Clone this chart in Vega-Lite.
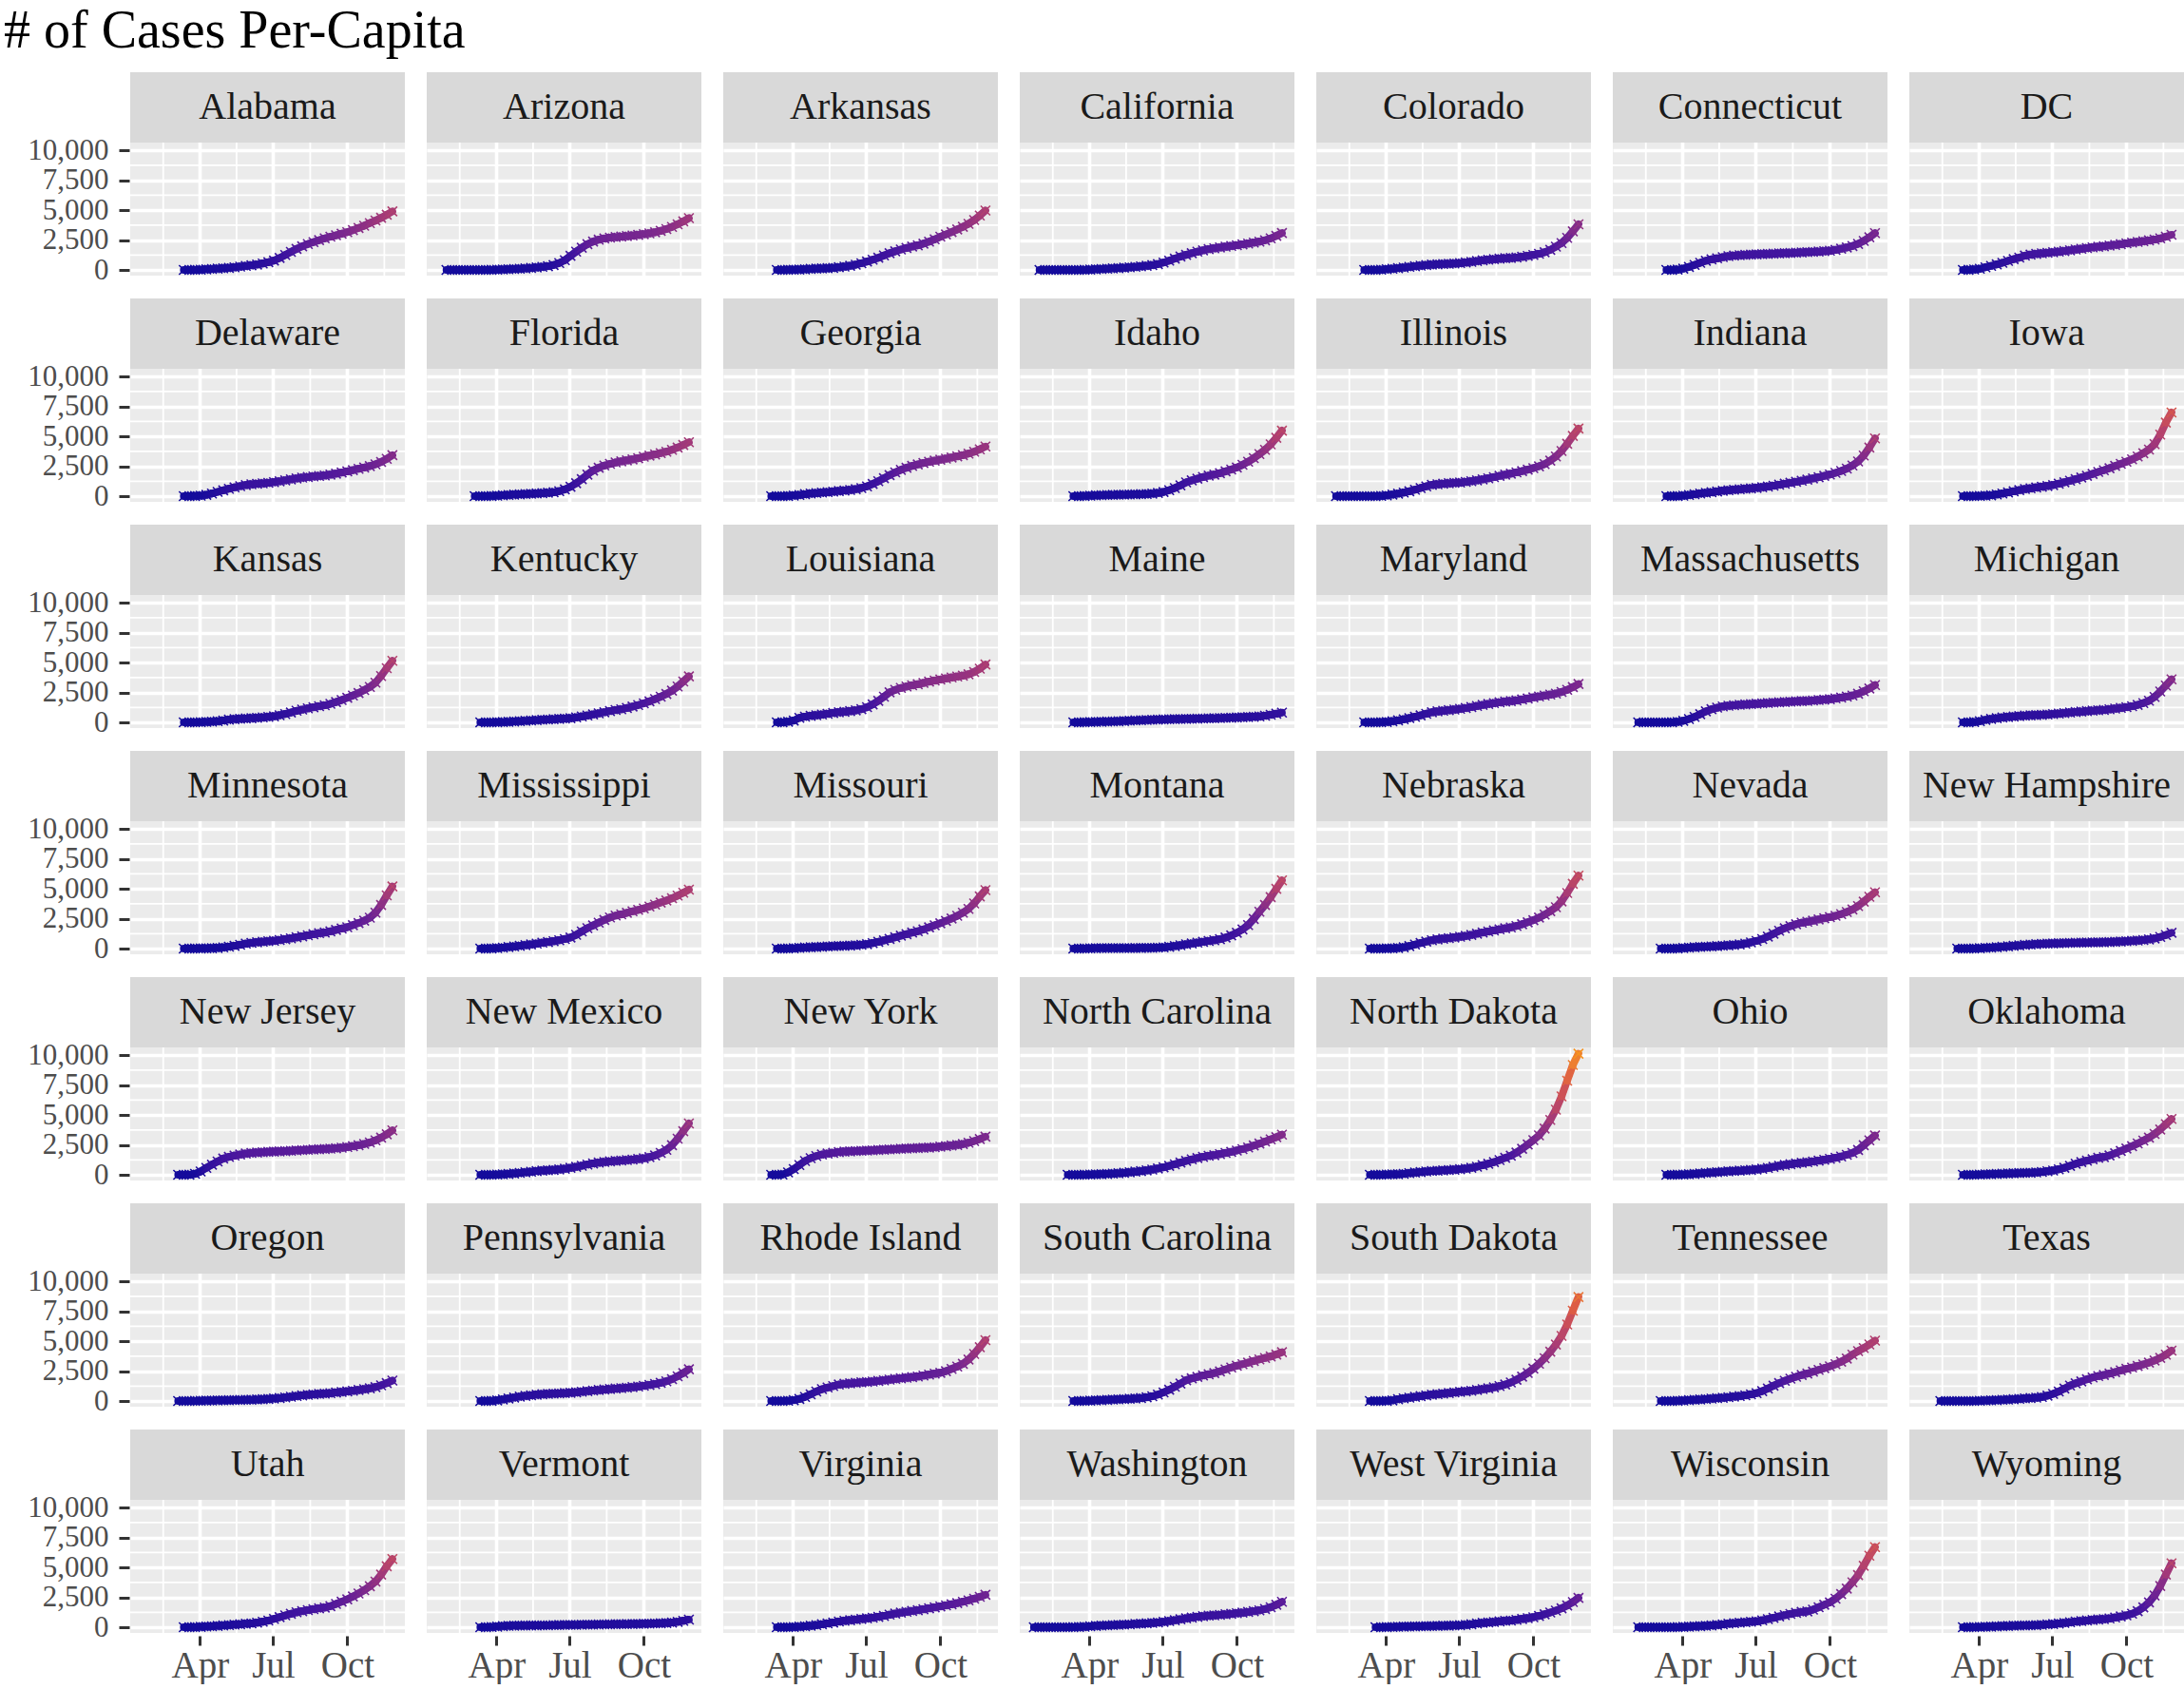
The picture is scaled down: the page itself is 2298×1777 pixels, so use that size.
{
  "$schema": "https://vega.github.io/schema/vega-lite/v6.json",
  "background": "white",
  "padding": {"left": 2, "top": 5, "right": 0, "bottom": 0},
  "title": {
    "text": "# of Cases Per-Capita",
    "anchor": "start",
    "frame": "bounds",
    "font": "Liberation Serif",
    "fontSize": 56,
    "fontWeight": "normal",
    "color": "#000000",
    "offset": 12,
    "dx": 2
  },
  "data": {
    "values": "s,d,v\nAlabama,2020-03-12,0\nAlabama,2020-03-19,1\nAlabama,2020-03-26,10\nAlabama,2020-04-02,25\nAlabama,2020-04-09,55\nAlabama,2020-04-16,85\nAlabama,2020-04-23,110\nAlabama,2020-04-30,140\nAlabama,2020-05-07,175\nAlabama,2020-05-14,220\nAlabama,2020-05-21,280\nAlabama,2020-05-28,340\nAlabama,2020-06-04,390\nAlabama,2020-06-11,450\nAlabama,2020-06-18,540\nAlabama,2020-06-25,650\nAlabama,2020-07-02,790\nAlabama,2020-07-09,1000\nAlabama,2020-07-16,1250\nAlabama,2020-07-23,1510\nAlabama,2020-07-30,1760\nAlabama,2020-08-06,1980\nAlabama,2020-08-13,2170\nAlabama,2020-08-20,2330\nAlabama,2020-08-27,2490\nAlabama,2020-09-03,2640\nAlabama,2020-09-10,2780\nAlabama,2020-09-17,2900\nAlabama,2020-09-24,3030\nAlabama,2020-10-01,3160\nAlabama,2020-10-08,3330\nAlabama,2020-10-15,3510\nAlabama,2020-10-22,3700\nAlabama,2020-10-29,3920\nAlabama,2020-11-05,4130\nAlabama,2020-11-12,4360\nAlabama,2020-11-19,4620\nAlabama,2020-11-26,4900\nArizona,2020-01-30,0\nArizona,2020-02-06,0\nArizona,2020-02-13,0\nArizona,2020-02-20,0\nArizona,2020-02-27,0\nArizona,2020-03-05,0\nArizona,2020-03-12,0\nArizona,2020-03-19,1\nArizona,2020-03-26,6\nArizona,2020-04-02,22\nArizona,2020-04-09,45\nArizona,2020-04-16,60\nArizona,2020-04-23,80\nArizona,2020-04-30,100\nArizona,2020-05-07,130\nArizona,2020-05-14,170\nArizona,2020-05-21,210\nArizona,2020-05-28,260\nArizona,2020-06-04,310\nArizona,2020-06-11,410\nArizona,2020-06-18,580\nArizona,2020-06-25,820\nArizona,2020-07-02,1180\nArizona,2020-07-09,1530\nArizona,2020-07-16,1860\nArizona,2020-07-23,2160\nArizona,2020-07-30,2380\nArizona,2020-08-06,2530\nArizona,2020-08-13,2630\nArizona,2020-08-20,2700\nArizona,2020-08-27,2750\nArizona,2020-09-03,2790\nArizona,2020-09-10,2830\nArizona,2020-09-17,2880\nArizona,2020-09-24,2930\nArizona,2020-10-01,2990\nArizona,2020-10-08,3060\nArizona,2020-10-15,3150\nArizona,2020-10-22,3270\nArizona,2020-10-29,3420\nArizona,2020-11-05,3600\nArizona,2020-11-12,3820\nArizona,2020-11-19,4060\nArizona,2020-11-26,4330\nArkansas,2020-03-12,0\nArkansas,2020-03-19,2\nArkansas,2020-03-26,12\nArkansas,2020-04-02,22\nArkansas,2020-04-09,35\nArkansas,2020-04-16,55\nArkansas,2020-04-23,90\nArkansas,2020-04-30,110\nArkansas,2020-05-07,125\nArkansas,2020-05-14,145\nArkansas,2020-05-21,175\nArkansas,2020-05-28,225\nArkansas,2020-06-04,275\nArkansas,2020-06-11,350\nArkansas,2020-06-18,440\nArkansas,2020-06-25,560\nArkansas,2020-07-02,710\nArkansas,2020-07-09,860\nArkansas,2020-07-16,1020\nArkansas,2020-07-23,1210\nArkansas,2020-07-30,1400\nArkansas,2020-08-06,1560\nArkansas,2020-08-13,1710\nArkansas,2020-08-20,1840\nArkansas,2020-08-27,1960\nArkansas,2020-09-03,2060\nArkansas,2020-09-10,2200\nArkansas,2020-09-17,2370\nArkansas,2020-09-24,2560\nArkansas,2020-10-01,2780\nArkansas,2020-10-08,2970\nArkansas,2020-10-15,3170\nArkansas,2020-10-22,3390\nArkansas,2020-10-29,3610\nArkansas,2020-11-05,3860\nArkansas,2020-11-12,4170\nArkansas,2020-11-19,4550\nArkansas,2020-11-26,4970\nCalifornia,2020-01-30,0\nCalifornia,2020-02-06,0\nCalifornia,2020-02-13,0\nCalifornia,2020-02-20,0\nCalifornia,2020-02-27,0\nCalifornia,2020-03-05,0\nCalifornia,2020-03-12,1\nCalifornia,2020-03-19,3\nCalifornia,2020-03-26,9\nCalifornia,2020-04-02,27\nCalifornia,2020-04-09,52\nCalifornia,2020-04-16,76\nCalifornia,2020-04-23,105\nCalifornia,2020-04-30,130\nCalifornia,2020-05-07,155\nCalifornia,2020-05-14,185\nCalifornia,2020-05-21,215\nCalifornia,2020-05-28,260\nCalifornia,2020-06-04,300\nCalifornia,2020-06-11,350\nCalifornia,2020-06-18,410\nCalifornia,2020-06-25,490\nCalifornia,2020-07-02,620\nCalifornia,2020-07-09,780\nCalifornia,2020-07-16,950\nCalifornia,2020-07-23,1120\nCalifornia,2020-07-30,1260\nCalifornia,2020-08-06,1400\nCalifornia,2020-08-13,1530\nCalifornia,2020-08-20,1640\nCalifornia,2020-08-27,1740\nCalifornia,2020-09-03,1810\nCalifornia,2020-09-10,1880\nCalifornia,2020-09-17,1950\nCalifornia,2020-09-24,2010\nCalifornia,2020-10-01,2070\nCalifornia,2020-10-08,2140\nCalifornia,2020-10-15,2210\nCalifornia,2020-10-22,2290\nCalifornia,2020-10-29,2370\nCalifornia,2020-11-05,2480\nCalifornia,2020-11-12,2640\nCalifornia,2020-11-19,2850\nCalifornia,2020-11-26,3090\nColorado,2020-03-05,0\nColorado,2020-03-12,1\nColorado,2020-03-19,4\nColorado,2020-03-26,20\nColorado,2020-04-02,60\nColorado,2020-04-09,105\nColorado,2020-04-16,150\nColorado,2020-04-23,200\nColorado,2020-04-30,255\nColorado,2020-05-07,310\nColorado,2020-05-14,360\nColorado,2020-05-21,410\nColorado,2020-05-28,445\nColorado,2020-06-04,470\nColorado,2020-06-11,495\nColorado,2020-06-18,515\nColorado,2020-06-25,540\nColorado,2020-07-02,575\nColorado,2020-07-09,625\nColorado,2020-07-16,680\nColorado,2020-07-23,745\nColorado,2020-07-30,810\nColorado,2020-08-06,860\nColorado,2020-08-13,900\nColorado,2020-08-20,940\nColorado,2020-08-27,980\nColorado,2020-09-03,1000\nColorado,2020-09-10,1040\nColorado,2020-09-17,1100\nColorado,2020-09-24,1170\nColorado,2020-10-01,1250\nColorado,2020-10-08,1350\nColorado,2020-10-15,1480\nColorado,2020-10-22,1680\nColorado,2020-10-29,1950\nColorado,2020-11-05,2250\nColorado,2020-11-12,2680\nColorado,2020-11-19,3230\nColorado,2020-11-26,3820\nConnecticut,2020-03-12,0\nConnecticut,2020-03-19,3\nConnecticut,2020-03-26,30\nConnecticut,2020-04-02,110\nConnecticut,2020-04-09,250\nConnecticut,2020-04-16,420\nConnecticut,2020-04-23,600\nConnecticut,2020-04-30,770\nConnecticut,2020-05-07,890\nConnecticut,2020-05-14,970\nConnecticut,2020-05-21,1070\nConnecticut,2020-05-28,1150\nConnecticut,2020-06-04,1200\nConnecticut,2020-06-11,1230\nConnecticut,2020-06-18,1260\nConnecticut,2020-06-25,1285\nConnecticut,2020-07-02,1305\nConnecticut,2020-07-09,1325\nConnecticut,2020-07-16,1340\nConnecticut,2020-07-23,1360\nConnecticut,2020-07-30,1385\nConnecticut,2020-08-06,1405\nConnecticut,2020-08-13,1420\nConnecticut,2020-08-20,1440\nConnecticut,2020-08-27,1465\nConnecticut,2020-09-03,1490\nConnecticut,2020-09-10,1510\nConnecticut,2020-09-17,1540\nConnecticut,2020-09-24,1570\nConnecticut,2020-10-01,1610\nConnecticut,2020-10-08,1680\nConnecticut,2020-10-15,1780\nConnecticut,2020-10-22,1880\nConnecticut,2020-10-29,2000\nConnecticut,2020-11-05,2180\nConnecticut,2020-11-12,2430\nConnecticut,2020-11-19,2730\nConnecticut,2020-11-26,3080\nDC,2020-03-12,1\nDC,2020-03-19,10\nDC,2020-03-26,45\nDC,2020-04-02,100\nDC,2020-04-09,220\nDC,2020-04-16,340\nDC,2020-04-23,470\nDC,2020-04-30,600\nDC,2020-05-07,760\nDC,2020-05-14,900\nDC,2020-05-21,1030\nDC,2020-05-28,1200\nDC,2020-06-04,1280\nDC,2020-06-11,1340\nDC,2020-06-18,1390\nDC,2020-06-25,1430\nDC,2020-07-02,1480\nDC,2020-07-09,1530\nDC,2020-07-16,1580\nDC,2020-07-23,1640\nDC,2020-07-30,1710\nDC,2020-08-06,1770\nDC,2020-08-13,1830\nDC,2020-08-20,1890\nDC,2020-08-27,1940\nDC,2020-09-03,1980\nDC,2020-09-10,2040\nDC,2020-09-17,2100\nDC,2020-09-24,2160\nDC,2020-10-01,2230\nDC,2020-10-08,2290\nDC,2020-10-15,2350\nDC,2020-10-22,2410\nDC,2020-10-29,2470\nDC,2020-11-05,2540\nDC,2020-11-12,2640\nDC,2020-11-19,2780\nDC,2020-11-26,2940\nDelaware,2020-03-12,0\nDelaware,2020-03-19,3\nDelaware,2020-03-26,12\nDelaware,2020-04-02,40\nDelaware,2020-04-09,110\nDelaware,2020-04-16,220\nDelaware,2020-04-23,360\nDelaware,2020-04-30,490\nDelaware,2020-05-07,620\nDelaware,2020-05-14,740\nDelaware,2020-05-21,840\nDelaware,2020-05-28,930\nDelaware,2020-06-04,990\nDelaware,2020-06-11,1030\nDelaware,2020-06-18,1070\nDelaware,2020-06-25,1110\nDelaware,2020-07-02,1170\nDelaware,2020-07-09,1240\nDelaware,2020-07-16,1320\nDelaware,2020-07-23,1400\nDelaware,2020-07-30,1480\nDelaware,2020-08-06,1550\nDelaware,2020-08-13,1600\nDelaware,2020-08-20,1650\nDelaware,2020-08-27,1690\nDelaware,2020-09-03,1730\nDelaware,2020-09-10,1800\nDelaware,2020-09-17,1880\nDelaware,2020-09-24,1980\nDelaware,2020-10-01,2080\nDelaware,2020-10-08,2180\nDelaware,2020-10-15,2290\nDelaware,2020-10-22,2400\nDelaware,2020-10-29,2510\nDelaware,2020-11-05,2660\nDelaware,2020-11-12,2860\nDelaware,2020-11-19,3120\nDelaware,2020-11-26,3430\nFlorida,2020-03-05,0\nFlorida,2020-03-12,1\nFlorida,2020-03-19,2\nFlorida,2020-03-26,12\nFlorida,2020-04-02,40\nFlorida,2020-04-09,75\nFlorida,2020-04-16,105\nFlorida,2020-04-23,135\nFlorida,2020-04-30,155\nFlorida,2020-05-07,180\nFlorida,2020-05-14,200\nFlorida,2020-05-21,225\nFlorida,2020-05-28,250\nFlorida,2020-06-04,285\nFlorida,2020-06-11,330\nFlorida,2020-06-18,420\nFlorida,2020-06-25,570\nFlorida,2020-07-02,790\nFlorida,2020-07-09,1080\nFlorida,2020-07-16,1420\nFlorida,2020-07-23,1800\nFlorida,2020-07-30,2140\nFlorida,2020-08-06,2380\nFlorida,2020-08-13,2560\nFlorida,2020-08-20,2700\nFlorida,2020-08-27,2820\nFlorida,2020-09-03,2910\nFlorida,2020-09-10,2990\nFlorida,2020-09-17,3070\nFlorida,2020-09-24,3170\nFlorida,2020-10-01,3300\nFlorida,2020-10-08,3390\nFlorida,2020-10-15,3490\nFlorida,2020-10-22,3600\nFlorida,2020-10-29,3720\nFlorida,2020-11-05,3880\nFlorida,2020-11-12,4070\nFlorida,2020-11-19,4280\nFlorida,2020-11-26,4510\nGeorgia,2020-03-05,0\nGeorgia,2020-03-12,0\nGeorgia,2020-03-19,2\nGeorgia,2020-03-26,15\nGeorgia,2020-04-02,55\nGeorgia,2020-04-09,105\nGeorgia,2020-04-16,165\nGeorgia,2020-04-23,215\nGeorgia,2020-04-30,255\nGeorgia,2020-05-07,295\nGeorgia,2020-05-14,335\nGeorgia,2020-05-21,380\nGeorgia,2020-05-28,430\nGeorgia,2020-06-04,470\nGeorgia,2020-06-11,520\nGeorgia,2020-06-18,590\nGeorgia,2020-06-25,680\nGeorgia,2020-07-02,820\nGeorgia,2020-07-09,1020\nGeorgia,2020-07-16,1250\nGeorgia,2020-07-23,1500\nGeorgia,2020-07-30,1760\nGeorgia,2020-08-06,1990\nGeorgia,2020-08-13,2200\nGeorgia,2020-08-20,2380\nGeorgia,2020-08-27,2530\nGeorgia,2020-09-03,2650\nGeorgia,2020-09-10,2770\nGeorgia,2020-09-17,2880\nGeorgia,2020-09-24,2970\nGeorgia,2020-10-01,3050\nGeorgia,2020-10-08,3140\nGeorgia,2020-10-15,3230\nGeorgia,2020-10-22,3330\nGeorgia,2020-10-29,3430\nGeorgia,2020-11-05,3560\nGeorgia,2020-11-12,3720\nGeorgia,2020-11-19,3920\nGeorgia,2020-11-26,4150\nIdaho,2020-03-12,0\nIdaho,2020-03-19,3\nIdaho,2020-03-26,15\nIdaho,2020-04-02,45\nIdaho,2020-04-09,70\nIdaho,2020-04-16,85\nIdaho,2020-04-23,100\nIdaho,2020-04-30,110\nIdaho,2020-05-07,120\nIdaho,2020-05-14,130\nIdaho,2020-05-21,140\nIdaho,2020-05-28,155\nIdaho,2020-06-04,165\nIdaho,2020-06-11,180\nIdaho,2020-06-18,210\nIdaho,2020-06-25,270\nIdaho,2020-07-02,350\nIdaho,2020-07-09,500\nIdaho,2020-07-16,680\nIdaho,2020-07-23,900\nIdaho,2020-07-30,1150\nIdaho,2020-08-06,1320\nIdaho,2020-08-13,1460\nIdaho,2020-08-20,1600\nIdaho,2020-08-27,1720\nIdaho,2020-09-03,1800\nIdaho,2020-09-10,1920\nIdaho,2020-09-17,2080\nIdaho,2020-09-24,2230\nIdaho,2020-10-01,2400\nIdaho,2020-10-08,2620\nIdaho,2020-10-15,2880\nIdaho,2020-10-22,3180\nIdaho,2020-10-29,3520\nIdaho,2020-11-05,3880\nIdaho,2020-11-12,4330\nIdaho,2020-11-19,4880\nIdaho,2020-11-26,5480\nIllinois,2020-01-30,0\nIllinois,2020-02-06,0\nIllinois,2020-02-13,0\nIllinois,2020-02-20,0\nIllinois,2020-02-27,0\nIllinois,2020-03-05,0\nIllinois,2020-03-12,0\nIllinois,2020-03-19,3\nIllinois,2020-03-26,20\nIllinois,2020-04-02,65\nIllinois,2020-04-09,130\nIllinois,2020-04-16,210\nIllinois,2020-04-23,300\nIllinois,2020-04-30,410\nIllinois,2020-05-07,540\nIllinois,2020-05-14,680\nIllinois,2020-05-21,820\nIllinois,2020-05-28,940\nIllinois,2020-06-04,990\nIllinois,2020-06-11,1040\nIllinois,2020-06-18,1080\nIllinois,2020-06-25,1110\nIllinois,2020-07-02,1140\nIllinois,2020-07-09,1190\nIllinois,2020-07-16,1250\nIllinois,2020-07-23,1320\nIllinois,2020-07-30,1400\nIllinois,2020-08-06,1490\nIllinois,2020-08-13,1590\nIllinois,2020-08-20,1700\nIllinois,2020-08-27,1800\nIllinois,2020-09-03,1880\nIllinois,2020-09-10,1990\nIllinois,2020-09-17,2100\nIllinois,2020-09-24,2220\nIllinois,2020-10-01,2350\nIllinois,2020-10-08,2500\nIllinois,2020-10-15,2680\nIllinois,2020-10-22,2970\nIllinois,2020-10-29,3320\nIllinois,2020-11-05,3780\nIllinois,2020-11-12,4380\nIllinois,2020-11-19,5040\nIllinois,2020-11-26,5650\nIndiana,2020-03-12,0\nIndiana,2020-03-19,1\nIndiana,2020-03-26,10\nIndiana,2020-04-02,45\nIndiana,2020-04-09,100\nIndiana,2020-04-16,160\nIndiana,2020-04-23,220\nIndiana,2020-04-30,275\nIndiana,2020-05-07,330\nIndiana,2020-05-14,390\nIndiana,2020-05-21,450\nIndiana,2020-05-28,500\nIndiana,2020-06-04,540\nIndiana,2020-06-11,580\nIndiana,2020-06-18,615\nIndiana,2020-06-25,650\nIndiana,2020-07-02,690\nIndiana,2020-07-09,750\nIndiana,2020-07-16,810\nIndiana,2020-07-23,880\nIndiana,2020-07-30,960\nIndiana,2020-08-06,1040\nIndiana,2020-08-13,1120\nIndiana,2020-08-20,1200\nIndiana,2020-08-27,1290\nIndiana,2020-09-03,1380\nIndiana,2020-09-10,1480\nIndiana,2020-09-17,1580\nIndiana,2020-09-24,1700\nIndiana,2020-10-01,1810\nIndiana,2020-10-08,1950\nIndiana,2020-10-15,2110\nIndiana,2020-10-22,2310\nIndiana,2020-10-29,2560\nIndiana,2020-11-05,2900\nIndiana,2020-11-12,3400\nIndiana,2020-11-19,4060\nIndiana,2020-11-26,4830\nIowa,2020-03-12,1\nIowa,2020-03-19,2\nIowa,2020-03-26,5\nIowa,2020-04-02,20\nIowa,2020-04-09,45\nIowa,2020-04-16,75\nIowa,2020-04-23,140\nIowa,2020-04-30,215\nIowa,2020-05-07,310\nIowa,2020-05-14,410\nIowa,2020-05-21,510\nIowa,2020-05-28,600\nIowa,2020-06-04,660\nIowa,2020-06-11,730\nIowa,2020-06-18,790\nIowa,2020-06-25,850\nIowa,2020-07-02,930\nIowa,2020-07-09,1040\nIowa,2020-07-16,1160\nIowa,2020-07-23,1290\nIowa,2020-07-30,1420\nIowa,2020-08-06,1560\nIowa,2020-08-13,1700\nIowa,2020-08-20,1860\nIowa,2020-08-27,2030\nIowa,2020-09-03,2170\nIowa,2020-09-10,2340\nIowa,2020-09-17,2530\nIowa,2020-09-24,2700\nIowa,2020-10-01,2880\nIowa,2020-10-08,3080\nIowa,2020-10-15,3320\nIowa,2020-10-22,3590\nIowa,2020-10-29,3900\nIowa,2020-11-05,4350\nIowa,2020-11-12,5150\nIowa,2020-11-19,6150\nIowa,2020-11-26,7000\nKansas,2020-03-12,0\nKansas,2020-03-19,1\nKansas,2020-03-26,5\nKansas,2020-04-02,17\nKansas,2020-04-09,40\nKansas,2020-04-16,65\nKansas,2020-04-23,100\nKansas,2020-04-30,155\nKansas,2020-05-07,230\nKansas,2020-05-14,270\nKansas,2020-05-21,300\nKansas,2020-05-28,325\nKansas,2020-06-04,350\nKansas,2020-06-11,380\nKansas,2020-06-18,420\nKansas,2020-06-25,460\nKansas,2020-07-02,510\nKansas,2020-07-09,600\nKansas,2020-07-16,700\nKansas,2020-07-23,830\nKansas,2020-07-30,970\nKansas,2020-08-06,1070\nKansas,2020-08-13,1170\nKansas,2020-08-20,1260\nKansas,2020-08-27,1350\nKansas,2020-09-03,1430\nKansas,2020-09-10,1550\nKansas,2020-09-17,1700\nKansas,2020-09-24,1870\nKansas,2020-10-01,2060\nKansas,2020-10-08,2250\nKansas,2020-10-15,2460\nKansas,2020-10-22,2700\nKansas,2020-10-29,2960\nKansas,2020-11-05,3320\nKansas,2020-11-12,3880\nKansas,2020-11-19,4530\nKansas,2020-11-26,5150\nKentucky,2020-03-12,0\nKentucky,2020-03-19,1\nKentucky,2020-03-26,5\nKentucky,2020-04-02,15\nKentucky,2020-04-09,30\nKentucky,2020-04-16,50\nKentucky,2020-04-23,75\nKentucky,2020-04-30,105\nKentucky,2020-05-07,130\nKentucky,2020-05-14,160\nKentucky,2020-05-21,190\nKentucky,2020-05-28,215\nKentucky,2020-06-04,240\nKentucky,2020-06-11,265\nKentucky,2020-06-18,290\nKentucky,2020-06-25,315\nKentucky,2020-07-02,350\nKentucky,2020-07-09,420\nKentucky,2020-07-16,500\nKentucky,2020-07-23,580\nKentucky,2020-07-30,670\nKentucky,2020-08-06,760\nKentucky,2020-08-13,850\nKentucky,2020-08-20,940\nKentucky,2020-08-27,1030\nKentucky,2020-09-03,1090\nKentucky,2020-09-10,1200\nKentucky,2020-09-17,1320\nKentucky,2020-09-24,1450\nKentucky,2020-10-01,1590\nKentucky,2020-10-08,1760\nKentucky,2020-10-15,1950\nKentucky,2020-10-22,2150\nKentucky,2020-10-29,2380\nKentucky,2020-11-05,2650\nKentucky,2020-11-12,3000\nKentucky,2020-11-19,3420\nKentucky,2020-11-26,3850\nLouisiana,2020-03-12,1\nLouisiana,2020-03-19,10\nLouisiana,2020-03-26,50\nLouisiana,2020-04-02,150\nLouisiana,2020-04-09,380\nLouisiana,2020-04-16,480\nLouisiana,2020-04-23,550\nLouisiana,2020-04-30,600\nLouisiana,2020-05-07,660\nLouisiana,2020-05-14,720\nLouisiana,2020-05-21,790\nLouisiana,2020-05-28,850\nLouisiana,2020-06-04,890\nLouisiana,2020-06-11,940\nLouisiana,2020-06-18,1000\nLouisiana,2020-06-25,1100\nLouisiana,2020-07-02,1270\nLouisiana,2020-07-09,1500\nLouisiana,2020-07-16,1800\nLouisiana,2020-07-23,2150\nLouisiana,2020-07-30,2510\nLouisiana,2020-08-06,2720\nLouisiana,2020-08-13,2880\nLouisiana,2020-08-20,3000\nLouisiana,2020-08-27,3100\nLouisiana,2020-09-03,3190\nLouisiana,2020-09-10,3300\nLouisiana,2020-09-17,3410\nLouisiana,2020-09-24,3500\nLouisiana,2020-10-01,3590\nLouisiana,2020-10-08,3680\nLouisiana,2020-10-15,3760\nLouisiana,2020-10-22,3840\nLouisiana,2020-10-29,3910\nLouisiana,2020-11-05,4020\nLouisiana,2020-11-12,4210\nLouisiana,2020-11-19,4490\nLouisiana,2020-11-26,4840\nMaine,2020-03-12,0\nMaine,2020-03-19,3\nMaine,2020-03-26,12\nMaine,2020-04-02,28\nMaine,2020-04-09,40\nMaine,2020-04-16,55\nMaine,2020-04-23,70\nMaine,2020-04-30,82\nMaine,2020-05-07,95\nMaine,2020-05-14,115\nMaine,2020-05-21,140\nMaine,2020-05-28,165\nMaine,2020-06-04,180\nMaine,2020-06-11,200\nMaine,2020-06-18,215\nMaine,2020-06-25,232\nMaine,2020-07-02,248\nMaine,2020-07-09,262\nMaine,2020-07-16,273\nMaine,2020-07-23,283\nMaine,2020-07-30,290\nMaine,2020-08-06,300\nMaine,2020-08-13,310\nMaine,2020-08-20,320\nMaine,2020-08-27,335\nMaine,2020-09-03,345\nMaine,2020-09-10,360\nMaine,2020-09-17,375\nMaine,2020-09-24,392\nMaine,2020-10-01,410\nMaine,2020-10-08,430\nMaine,2020-10-15,450\nMaine,2020-10-22,472\nMaine,2020-10-29,500\nMaine,2020-11-05,560\nMaine,2020-11-12,640\nMaine,2020-11-19,730\nMaine,2020-11-26,820\nMaryland,2020-03-05,0\nMaryland,2020-03-12,0\nMaryland,2020-03-19,2\nMaryland,2020-03-26,12\nMaryland,2020-04-02,35\nMaryland,2020-04-09,95\nMaryland,2020-04-16,170\nMaryland,2020-04-23,260\nMaryland,2020-04-30,360\nMaryland,2020-05-07,470\nMaryland,2020-05-14,590\nMaryland,2020-05-21,720\nMaryland,2020-05-28,850\nMaryland,2020-06-04,920\nMaryland,2020-06-11,970\nMaryland,2020-06-18,1020\nMaryland,2020-06-25,1070\nMaryland,2020-07-02,1130\nMaryland,2020-07-09,1200\nMaryland,2020-07-16,1280\nMaryland,2020-07-23,1370\nMaryland,2020-07-30,1460\nMaryland,2020-08-06,1540\nMaryland,2020-08-13,1610\nMaryland,2020-08-20,1680\nMaryland,2020-08-27,1740\nMaryland,2020-09-03,1780\nMaryland,2020-09-10,1840\nMaryland,2020-09-17,1920\nMaryland,2020-09-24,2000\nMaryland,2020-10-01,2100\nMaryland,2020-10-08,2170\nMaryland,2020-10-15,2250\nMaryland,2020-10-22,2330\nMaryland,2020-10-29,2410\nMaryland,2020-11-05,2540\nMaryland,2020-11-12,2720\nMaryland,2020-11-19,2950\nMaryland,2020-11-26,3210\nMassachusetts,2020-02-06,0\nMassachusetts,2020-02-13,0\nMassachusetts,2020-02-20,0\nMassachusetts,2020-02-27,0\nMassachusetts,2020-03-05,0\nMassachusetts,2020-03-12,2\nMassachusetts,2020-03-19,6\nMassachusetts,2020-03-26,40\nMassachusetts,2020-04-02,130\nMassachusetts,2020-04-09,280\nMassachusetts,2020-04-16,460\nMassachusetts,2020-04-23,690\nMassachusetts,2020-04-30,920\nMassachusetts,2020-05-07,1100\nMassachusetts,2020-05-14,1230\nMassachusetts,2020-05-21,1330\nMassachusetts,2020-05-28,1390\nMassachusetts,2020-06-04,1430\nMassachusetts,2020-06-11,1470\nMassachusetts,2020-06-18,1500\nMassachusetts,2020-06-25,1530\nMassachusetts,2020-07-02,1560\nMassachusetts,2020-07-09,1590\nMassachusetts,2020-07-16,1620\nMassachusetts,2020-07-23,1650\nMassachusetts,2020-07-30,1680\nMassachusetts,2020-08-06,1700\nMassachusetts,2020-08-13,1730\nMassachusetts,2020-08-20,1760\nMassachusetts,2020-08-27,1780\nMassachusetts,2020-09-03,1790\nMassachusetts,2020-09-10,1830\nMassachusetts,2020-09-17,1870\nMassachusetts,2020-09-24,1900\nMassachusetts,2020-10-01,1940\nMassachusetts,2020-10-08,2010\nMassachusetts,2020-10-15,2080\nMassachusetts,2020-10-22,2160\nMassachusetts,2020-10-29,2250\nMassachusetts,2020-11-05,2400\nMassachusetts,2020-11-12,2600\nMassachusetts,2020-11-19,2830\nMassachusetts,2020-11-26,3120\nMichigan,2020-03-12,0\nMichigan,2020-03-19,3\nMichigan,2020-03-26,30\nMichigan,2020-04-02,105\nMichigan,2020-04-09,210\nMichigan,2020-04-16,290\nMichigan,2020-04-23,350\nMichigan,2020-04-30,410\nMichigan,2020-05-07,450\nMichigan,2020-05-14,490\nMichigan,2020-05-21,530\nMichigan,2020-05-28,565\nMichigan,2020-06-04,590\nMichigan,2020-06-11,610\nMichigan,2020-06-18,630\nMichigan,2020-06-25,660\nMichigan,2020-07-02,700\nMichigan,2020-07-09,740\nMichigan,2020-07-16,780\nMichigan,2020-07-23,830\nMichigan,2020-07-30,870\nMichigan,2020-08-06,900\nMichigan,2020-08-13,940\nMichigan,2020-08-20,980\nMichigan,2020-08-27,1010\nMichigan,2020-09-03,1040\nMichigan,2020-09-10,1090\nMichigan,2020-09-17,1150\nMichigan,2020-09-24,1210\nMichigan,2020-10-01,1270\nMichigan,2020-10-08,1350\nMichigan,2020-10-15,1460\nMichigan,2020-10-22,1610\nMichigan,2020-10-29,1810\nMichigan,2020-11-05,2130\nMichigan,2020-11-12,2580\nMichigan,2020-11-19,3080\nMichigan,2020-11-26,3600\nMinnesota,2020-03-12,0\nMinnesota,2020-03-19,1\nMinnesota,2020-03-26,6\nMinnesota,2020-04-02,14\nMinnesota,2020-04-09,20\nMinnesota,2020-04-16,35\nMinnesota,2020-04-23,55\nMinnesota,2020-04-30,100\nMinnesota,2020-05-07,160\nMinnesota,2020-05-14,230\nMinnesota,2020-05-21,320\nMinnesota,2020-05-28,420\nMinnesota,2020-06-04,480\nMinnesota,2020-06-11,530\nMinnesota,2020-06-18,580\nMinnesota,2020-06-25,620\nMinnesota,2020-07-02,660\nMinnesota,2020-07-09,720\nMinnesota,2020-07-16,790\nMinnesota,2020-07-23,860\nMinnesota,2020-07-30,940\nMinnesota,2020-08-06,1020\nMinnesota,2020-08-13,1110\nMinnesota,2020-08-20,1200\nMinnesota,2020-08-27,1290\nMinnesota,2020-09-03,1340\nMinnesota,2020-09-10,1440\nMinnesota,2020-09-17,1560\nMinnesota,2020-09-24,1680\nMinnesota,2020-10-01,1790\nMinnesota,2020-10-08,1960\nMinnesota,2020-10-15,2140\nMinnesota,2020-10-22,2340\nMinnesota,2020-10-29,2580\nMinnesota,2020-11-05,3000\nMinnesota,2020-11-12,3650\nMinnesota,2020-11-19,4450\nMinnesota,2020-11-26,5200\nMississippi,2020-03-12,0\nMississippi,2020-03-19,2\nMississippi,2020-03-26,15\nMississippi,2020-04-02,45\nMississippi,2020-04-09,85\nMississippi,2020-04-16,130\nMississippi,2020-04-23,180\nMississippi,2020-04-30,230\nMississippi,2020-05-07,290\nMississippi,2020-05-14,350\nMississippi,2020-05-21,420\nMississippi,2020-05-28,500\nMississippi,2020-06-04,550\nMississippi,2020-06-11,620\nMississippi,2020-06-18,700\nMississippi,2020-06-25,800\nMississippi,2020-07-02,930\nMississippi,2020-07-09,1150\nMississippi,2020-07-16,1430\nMississippi,2020-07-23,1710\nMississippi,2020-07-30,1940\nMississippi,2020-08-06,2170\nMississippi,2020-08-13,2400\nMississippi,2020-08-20,2600\nMississippi,2020-08-27,2760\nMississippi,2020-09-03,2860\nMississippi,2020-09-10,2990\nMississippi,2020-09-17,3120\nMississippi,2020-09-24,3240\nMississippi,2020-10-01,3360\nMississippi,2020-10-08,3520\nMississippi,2020-10-15,3680\nMississippi,2020-10-22,3850\nMississippi,2020-10-29,4020\nMississippi,2020-11-05,4210\nMississippi,2020-11-12,4430\nMississippi,2020-11-19,4670\nMississippi,2020-11-26,4930\nMissouri,2020-03-12,0\nMissouri,2020-03-19,1\nMissouri,2020-03-26,8\nMissouri,2020-04-02,30\nMissouri,2020-04-09,62\nMissouri,2020-04-16,88\nMissouri,2020-04-23,110\nMissouri,2020-04-30,130\nMissouri,2020-05-07,155\nMissouri,2020-05-14,180\nMissouri,2020-05-21,200\nMissouri,2020-05-28,215\nMissouri,2020-06-04,230\nMissouri,2020-06-11,250\nMissouri,2020-06-18,280\nMissouri,2020-06-25,320\nMissouri,2020-07-02,370\nMissouri,2020-07-09,460\nMissouri,2020-07-16,570\nMissouri,2020-07-23,690\nMissouri,2020-07-30,810\nMissouri,2020-08-06,940\nMissouri,2020-08-13,1080\nMissouri,2020-08-20,1200\nMissouri,2020-08-27,1340\nMissouri,2020-09-03,1450\nMissouri,2020-09-10,1600\nMissouri,2020-09-17,1780\nMissouri,2020-09-24,1950\nMissouri,2020-10-01,2120\nMissouri,2020-10-08,2320\nMissouri,2020-10-15,2520\nMissouri,2020-10-22,2740\nMissouri,2020-10-29,3000\nMissouri,2020-11-05,3320\nMissouri,2020-11-12,3780\nMissouri,2020-11-19,4360\nMissouri,2020-11-26,4890\nMontana,2020-03-12,0\nMontana,2020-03-19,2\nMontana,2020-03-26,10\nMontana,2020-04-02,22\nMontana,2020-04-09,33\nMontana,2020-04-16,38\nMontana,2020-04-23,41\nMontana,2020-04-30,42\nMontana,2020-05-07,43\nMontana,2020-05-14,44\nMontana,2020-05-21,45\nMontana,2020-05-28,48\nMontana,2020-06-04,51\nMontana,2020-06-11,56\nMontana,2020-06-18,64\nMontana,2020-06-25,80\nMontana,2020-07-02,100\nMontana,2020-07-09,150\nMontana,2020-07-16,210\nMontana,2020-07-23,280\nMontana,2020-07-30,360\nMontana,2020-08-06,430\nMontana,2020-08-13,500\nMontana,2020-08-20,570\nMontana,2020-08-27,640\nMontana,2020-09-03,700\nMontana,2020-09-10,790\nMontana,2020-09-17,920\nMontana,2020-09-24,1100\nMontana,2020-10-01,1320\nMontana,2020-10-08,1600\nMontana,2020-10-15,1970\nMontana,2020-10-22,2480\nMontana,2020-10-29,3080\nMontana,2020-11-05,3650\nMontana,2020-11-12,4300\nMontana,2020-11-19,5000\nMontana,2020-11-26,5700\nNebraska,2020-03-12,1\nNebraska,2020-03-19,2\nNebraska,2020-03-26,4\nNebraska,2020-04-02,12\nNebraska,2020-04-09,25\nNebraska,2020-04-16,50\nNebraska,2020-04-23,110\nNebraska,2020-04-30,210\nNebraska,2020-05-07,340\nNebraska,2020-05-14,470\nNebraska,2020-05-21,590\nNebraska,2020-05-28,700\nNebraska,2020-06-04,770\nNebraska,2020-06-11,830\nNebraska,2020-06-18,880\nNebraska,2020-06-25,930\nNebraska,2020-07-02,990\nNebraska,2020-07-09,1060\nNebraska,2020-07-16,1140\nNebraska,2020-07-23,1240\nNebraska,2020-07-30,1340\nNebraska,2020-08-06,1430\nNebraska,2020-08-13,1520\nNebraska,2020-08-20,1610\nNebraska,2020-08-27,1700\nNebraska,2020-09-03,1770\nNebraska,2020-09-10,1890\nNebraska,2020-09-17,2040\nNebraska,2020-09-24,2200\nNebraska,2020-10-01,2380\nNebraska,2020-10-08,2590\nNebraska,2020-10-15,2840\nNebraska,2020-10-22,3130\nNebraska,2020-10-29,3460\nNebraska,2020-11-05,3950\nNebraska,2020-11-12,4650\nNebraska,2020-11-19,5420\nNebraska,2020-11-26,6100\nNevada,2020-03-05,0\nNevada,2020-03-12,0\nNevada,2020-03-19,3\nNevada,2020-03-26,12\nNevada,2020-04-02,48\nNevada,2020-04-09,85\nNevada,2020-04-16,115\nNevada,2020-04-23,140\nNevada,2020-04-30,160\nNevada,2020-05-07,180\nNevada,2020-05-14,205\nNevada,2020-05-21,235\nNevada,2020-05-28,270\nNevada,2020-06-04,300\nNevada,2020-06-11,350\nNevada,2020-06-18,420\nNevada,2020-06-25,520\nNevada,2020-07-02,640\nNevada,2020-07-09,800\nNevada,2020-07-16,1000\nNevada,2020-07-23,1240\nNevada,2020-07-30,1490\nNevada,2020-08-06,1700\nNevada,2020-08-13,1880\nNevada,2020-08-20,2040\nNevada,2020-08-27,2170\nNevada,2020-09-03,2250\nNevada,2020-09-10,2340\nNevada,2020-09-17,2440\nNevada,2020-09-24,2530\nNevada,2020-10-01,2630\nNevada,2020-10-08,2740\nNevada,2020-10-15,2880\nNevada,2020-10-22,3060\nNevada,2020-10-29,3270\nNevada,2020-11-05,3560\nNevada,2020-11-12,3930\nNevada,2020-11-19,4330\nNevada,2020-11-26,4710\nNew Hampshire,2020-03-05,0\nNew Hampshire,2020-03-12,1\nNew Hampshire,2020-03-19,3\nNew Hampshire,2020-03-26,10\nNew Hampshire,2020-04-02,30\nNew Hampshire,2020-04-09,60\nNew Hampshire,2020-04-16,85\nNew Hampshire,2020-04-23,115\nNew Hampshire,2020-04-30,150\nNew Hampshire,2020-05-07,190\nNew Hampshire,2020-05-14,230\nNew Hampshire,2020-05-21,270\nNew Hampshire,2020-05-28,310\nNew Hampshire,2020-06-04,340\nNew Hampshire,2020-06-11,370\nNew Hampshire,2020-06-18,395\nNew Hampshire,2020-06-25,415\nNew Hampshire,2020-07-02,430\nNew Hampshire,2020-07-09,445\nNew Hampshire,2020-07-16,460\nNew Hampshire,2020-07-23,475\nNew Hampshire,2020-07-30,485\nNew Hampshire,2020-08-06,495\nNew Hampshire,2020-08-13,505\nNew Hampshire,2020-08-20,515\nNew Hampshire,2020-08-27,525\nNew Hampshire,2020-09-03,530\nNew Hampshire,2020-09-10,550\nNew Hampshire,2020-09-17,570\nNew Hampshire,2020-09-24,590\nNew Hampshire,2020-10-01,620\nNew Hampshire,2020-10-08,650\nNew Hampshire,2020-10-15,680\nNew Hampshire,2020-10-22,720\nNew Hampshire,2020-10-29,770\nNew Hampshire,2020-11-05,850\nNew Hampshire,2020-11-12,970\nNew Hampshire,2020-11-19,1130\nNew Hampshire,2020-11-26,1320\nNew Jersey,2020-03-05,0\nNew Jersey,2020-03-12,3\nNew Jersey,2020-03-19,10\nNew Jersey,2020-03-26,80\nNew Jersey,2020-04-02,280\nNew Jersey,2020-04-09,580\nNew Jersey,2020-04-16,850\nNew Jersey,2020-04-23,1110\nNew Jersey,2020-04-30,1360\nNew Jersey,2020-05-07,1500\nNew Jersey,2020-05-14,1610\nNew Jersey,2020-05-21,1700\nNew Jersey,2020-05-28,1780\nNew Jersey,2020-06-04,1830\nNew Jersey,2020-06-11,1860\nNew Jersey,2020-06-18,1890\nNew Jersey,2020-06-25,1920\nNew Jersey,2020-07-02,1940\nNew Jersey,2020-07-09,1960\nNew Jersey,2020-07-16,1980\nNew Jersey,2020-07-23,2010\nNew Jersey,2020-07-30,2040\nNew Jersey,2020-08-06,2070\nNew Jersey,2020-08-13,2090\nNew Jersey,2020-08-20,2120\nNew Jersey,2020-08-27,2140\nNew Jersey,2020-09-03,2160\nNew Jersey,2020-09-10,2190\nNew Jersey,2020-09-17,2220\nNew Jersey,2020-09-24,2270\nNew Jersey,2020-10-01,2330\nNew Jersey,2020-10-08,2400\nNew Jersey,2020-10-15,2480\nNew Jersey,2020-10-22,2580\nNew Jersey,2020-10-29,2700\nNew Jersey,2020-11-05,2880\nNew Jersey,2020-11-12,3110\nNew Jersey,2020-11-19,3390\nNew Jersey,2020-11-26,3720\nNew Mexico,2020-03-12,0\nNew Mexico,2020-03-19,1\nNew Mexico,2020-03-26,5\nNew Mexico,2020-04-02,18\nNew Mexico,2020-04-09,40\nNew Mexico,2020-04-16,75\nNew Mexico,2020-04-23,115\nNew Mexico,2020-04-30,160\nNew Mexico,2020-05-07,210\nNew Mexico,2020-05-14,260\nNew Mexico,2020-05-21,310\nNew Mexico,2020-05-28,350\nNew Mexico,2020-06-04,380\nNew Mexico,2020-06-11,410\nNew Mexico,2020-06-18,450\nNew Mexico,2020-06-25,510\nNew Mexico,2020-07-02,590\nNew Mexico,2020-07-09,670\nNew Mexico,2020-07-16,760\nNew Mexico,2020-07-23,860\nNew Mexico,2020-07-30,950\nNew Mexico,2020-08-06,1020\nNew Mexico,2020-08-13,1070\nNew Mexico,2020-08-20,1120\nNew Mexico,2020-08-27,1160\nNew Mexico,2020-09-03,1190\nNew Mexico,2020-09-10,1230\nNew Mexico,2020-09-17,1270\nNew Mexico,2020-09-24,1320\nNew Mexico,2020-10-01,1380\nNew Mexico,2020-10-08,1480\nNew Mexico,2020-10-15,1620\nNew Mexico,2020-10-22,1830\nNew Mexico,2020-10-29,2090\nNew Mexico,2020-11-05,2480\nNew Mexico,2020-11-12,3020\nNew Mexico,2020-11-19,3650\nNew Mexico,2020-11-26,4290\nNew York,2020-03-05,0\nNew York,2020-03-12,2\nNew York,2020-03-19,25\nNew York,2020-03-26,200\nNew York,2020-04-02,480\nNew York,2020-04-09,820\nNew York,2020-04-16,1150\nNew York,2020-04-23,1390\nNew York,2020-04-30,1570\nNew York,2020-05-07,1700\nNew York,2020-05-14,1780\nNew York,2020-05-21,1840\nNew York,2020-05-28,1900\nNew York,2020-06-04,1940\nNew York,2020-06-11,1960\nNew York,2020-06-18,1985\nNew York,2020-06-25,2010\nNew York,2020-07-02,2030\nNew York,2020-07-09,2050\nNew York,2020-07-16,2080\nNew York,2020-07-23,2100\nNew York,2020-07-30,2130\nNew York,2020-08-06,2150\nNew York,2020-08-13,2180\nNew York,2020-08-20,2200\nNew York,2020-08-27,2220\nNew York,2020-09-03,2240\nNew York,2020-09-10,2260\nNew York,2020-09-17,2280\nNew York,2020-09-24,2310\nNew York,2020-10-01,2360\nNew York,2020-10-08,2400\nNew York,2020-10-15,2450\nNew York,2020-10-22,2500\nNew York,2020-10-29,2570\nNew York,2020-11-05,2680\nNew York,2020-11-12,2820\nNew York,2020-11-19,2990\nNew York,2020-11-26,3190\nNorth Carolina,2020-03-05,0\nNorth Carolina,2020-03-12,0\nNorth Carolina,2020-03-19,1\nNorth Carolina,2020-03-26,7\nNorth Carolina,2020-04-02,20\nNorth Carolina,2020-04-09,40\nNorth Carolina,2020-04-16,55\nNorth Carolina,2020-04-23,75\nNorth Carolina,2020-04-30,100\nNorth Carolina,2020-05-07,130\nNorth Carolina,2020-05-14,165\nNorth Carolina,2020-05-21,210\nNorth Carolina,2020-05-28,265\nNorth Carolina,2020-06-04,310\nNorth Carolina,2020-06-11,370\nNorth Carolina,2020-06-18,440\nNorth Carolina,2020-06-25,530\nNorth Carolina,2020-07-02,630\nNorth Carolina,2020-07-09,750\nNorth Carolina,2020-07-16,880\nNorth Carolina,2020-07-23,1020\nNorth Carolina,2020-07-30,1160\nNorth Carolina,2020-08-06,1290\nNorth Carolina,2020-08-13,1400\nNorth Carolina,2020-08-20,1500\nNorth Carolina,2020-08-27,1590\nNorth Carolina,2020-09-03,1640\nNorth Carolina,2020-09-10,1730\nNorth Carolina,2020-09-17,1830\nNorth Carolina,2020-09-24,1920\nNorth Carolina,2020-10-01,2030\nNorth Carolina,2020-10-08,2150\nNorth Carolina,2020-10-15,2290\nNorth Carolina,2020-10-22,2450\nNorth Carolina,2020-10-29,2610\nNorth Carolina,2020-11-05,2780\nNorth Carolina,2020-11-12,2960\nNorth Carolina,2020-11-19,3150\nNorth Carolina,2020-11-26,3360\nNorth Dakota,2020-03-12,0\nNorth Dakota,2020-03-19,2\nNorth Dakota,2020-03-26,7\nNorth Dakota,2020-04-02,22\nNorth Dakota,2020-04-09,36\nNorth Dakota,2020-04-16,50\nNorth Dakota,2020-04-23,85\nNorth Dakota,2020-04-30,140\nNorth Dakota,2020-05-07,190\nNorth Dakota,2020-05-14,230\nNorth Dakota,2020-05-21,280\nNorth Dakota,2020-05-28,320\nNorth Dakota,2020-06-04,340\nNorth Dakota,2020-06-11,370\nNorth Dakota,2020-06-18,400\nNorth Dakota,2020-06-25,430\nNorth Dakota,2020-07-02,470\nNorth Dakota,2020-07-09,520\nNorth Dakota,2020-07-16,590\nNorth Dakota,2020-07-23,680\nNorth Dakota,2020-07-30,810\nNorth Dakota,2020-08-06,920\nNorth Dakota,2020-08-13,1060\nNorth Dakota,2020-08-20,1230\nNorth Dakota,2020-08-27,1420\nNorth Dakota,2020-09-03,1600\nNorth Dakota,2020-09-10,1860\nNorth Dakota,2020-09-17,2180\nNorth Dakota,2020-09-24,2530\nNorth Dakota,2020-10-01,2900\nNorth Dakota,2020-10-08,3300\nNorth Dakota,2020-10-15,3870\nNorth Dakota,2020-10-22,4590\nNorth Dakota,2020-10-29,5450\nNorth Dakota,2020-11-05,6560\nNorth Dakota,2020-11-12,7870\nNorth Dakota,2020-11-19,9180\nNorth Dakota,2020-11-26,10130\nOhio,2020-03-12,0\nOhio,2020-03-19,1\nOhio,2020-03-26,6\nOhio,2020-04-02,25\nOhio,2020-04-09,50\nOhio,2020-04-16,75\nOhio,2020-04-23,115\nOhio,2020-04-30,160\nOhio,2020-05-07,190\nOhio,2020-05-14,220\nOhio,2020-05-21,255\nOhio,2020-05-28,290\nOhio,2020-06-04,320\nOhio,2020-06-11,345\nOhio,2020-06-18,375\nOhio,2020-06-25,410\nOhio,2020-07-02,450\nOhio,2020-07-09,510\nOhio,2020-07-16,580\nOhio,2020-07-23,670\nOhio,2020-07-30,760\nOhio,2020-08-06,830\nOhio,2020-08-13,890\nOhio,2020-08-20,950\nOhio,2020-08-27,1000\nOhio,2020-09-03,1050\nOhio,2020-09-10,1110\nOhio,2020-09-17,1180\nOhio,2020-09-24,1250\nOhio,2020-10-01,1330\nOhio,2020-10-08,1420\nOhio,2020-10-15,1530\nOhio,2020-10-22,1670\nOhio,2020-10-29,1830\nOhio,2020-11-05,2080\nOhio,2020-11-12,2470\nOhio,2020-11-19,2880\nOhio,2020-11-26,3290\nOklahoma,2020-03-12,0\nOklahoma,2020-03-19,1\nOklahoma,2020-03-26,5\nOklahoma,2020-04-02,22\nOklahoma,2020-04-09,40\nOklahoma,2020-04-16,55\nOklahoma,2020-04-23,72\nOklahoma,2020-04-30,90\nOklahoma,2020-05-07,110\nOklahoma,2020-05-14,125\nOklahoma,2020-05-21,145\nOklahoma,2020-05-28,160\nOklahoma,2020-06-04,175\nOklahoma,2020-06-11,200\nOklahoma,2020-06-18,240\nOklahoma,2020-06-25,295\nOklahoma,2020-07-02,360\nOklahoma,2020-07-09,460\nOklahoma,2020-07-16,590\nOklahoma,2020-07-23,750\nOklahoma,2020-07-30,920\nOklahoma,2020-08-06,1060\nOklahoma,2020-08-13,1180\nOklahoma,2020-08-20,1300\nOklahoma,2020-08-27,1420\nOklahoma,2020-09-03,1480\nOklahoma,2020-09-10,1620\nOklahoma,2020-09-17,1800\nOklahoma,2020-09-24,2000\nOklahoma,2020-10-01,2200\nOklahoma,2020-10-08,2400\nOklahoma,2020-10-15,2620\nOklahoma,2020-10-22,2860\nOklahoma,2020-10-29,3110\nOklahoma,2020-11-05,3420\nOklahoma,2020-11-12,3790\nOklahoma,2020-11-19,4230\nOklahoma,2020-11-26,4670\nOregon,2020-03-05,0\nOregon,2020-03-12,1\nOregon,2020-03-19,2\nOregon,2020-03-26,6\nOregon,2020-04-02,20\nOregon,2020-04-09,33\nOregon,2020-04-16,42\nOregon,2020-04-23,52\nOregon,2020-04-30,62\nOregon,2020-05-07,70\nOregon,2020-05-14,78\nOregon,2020-05-21,88\nOregon,2020-05-28,98\nOregon,2020-06-04,110\nOregon,2020-06-11,125\nOregon,2020-06-18,145\nOregon,2020-06-25,175\nOregon,2020-07-02,210\nOregon,2020-07-09,250\nOregon,2020-07-16,300\nOregon,2020-07-23,360\nOregon,2020-07-30,420\nOregon,2020-08-06,470\nOregon,2020-08-13,520\nOregon,2020-08-20,560\nOregon,2020-08-27,600\nOregon,2020-09-03,620\nOregon,2020-09-10,660\nOregon,2020-09-17,710\nOregon,2020-09-24,760\nOregon,2020-10-01,810\nOregon,2020-10-08,860\nOregon,2020-10-15,920\nOregon,2020-10-22,990\nOregon,2020-10-29,1060\nOregon,2020-11-05,1160\nOregon,2020-11-12,1310\nOregon,2020-11-19,1500\nOregon,2020-11-26,1710\nPennsylvania,2020-03-12,0\nPennsylvania,2020-03-19,1\nPennsylvania,2020-03-26,12\nPennsylvania,2020-04-02,55\nPennsylvania,2020-04-09,130\nPennsylvania,2020-04-16,210\nPennsylvania,2020-04-23,290\nPennsylvania,2020-04-30,370\nPennsylvania,2020-05-07,430\nPennsylvania,2020-05-14,480\nPennsylvania,2020-05-21,530\nPennsylvania,2020-05-28,570\nPennsylvania,2020-06-04,600\nPennsylvania,2020-06-11,620\nPennsylvania,2020-06-18,640\nPennsylvania,2020-06-25,665\nPennsylvania,2020-07-02,690\nPennsylvania,2020-07-09,730\nPennsylvania,2020-07-16,780\nPennsylvania,2020-07-23,830\nPennsylvania,2020-07-30,875\nPennsylvania,2020-08-06,920\nPennsylvania,2020-08-13,960\nPennsylvania,2020-08-20,1000\nPennsylvania,2020-08-27,1040\nPennsylvania,2020-09-03,1070\nPennsylvania,2020-09-10,1110\nPennsylvania,2020-09-17,1160\nPennsylvania,2020-09-24,1210\nPennsylvania,2020-10-01,1270\nPennsylvania,2020-10-08,1340\nPennsylvania,2020-10-15,1420\nPennsylvania,2020-10-22,1520\nPennsylvania,2020-10-29,1650\nPennsylvania,2020-11-05,1830\nPennsylvania,2020-11-12,2070\nPennsylvania,2020-11-19,2340\nPennsylvania,2020-11-26,2650\nRhode Island,2020-03-05,0\nRhode Island,2020-03-12,1\nRhode Island,2020-03-19,5\nRhode Island,2020-03-26,20\nRhode Island,2020-04-02,70\nRhode Island,2020-04-09,170\nRhode Island,2020-04-16,340\nRhode Island,2020-04-23,560\nRhode Island,2020-04-30,800\nRhode Island,2020-05-07,990\nRhode Island,2020-05-14,1130\nRhode Island,2020-05-21,1250\nRhode Island,2020-05-28,1380\nRhode Island,2020-06-04,1440\nRhode Island,2020-06-11,1480\nRhode Island,2020-06-18,1520\nRhode Island,2020-06-25,1560\nRhode Island,2020-07-02,1590\nRhode Island,2020-07-09,1630\nRhode Island,2020-07-16,1680\nRhode Island,2020-07-23,1730\nRhode Island,2020-07-30,1790\nRhode Island,2020-08-06,1850\nRhode Island,2020-08-13,1900\nRhode Island,2020-08-20,1950\nRhode Island,2020-08-27,2000\nRhode Island,2020-09-03,2050\nRhode Island,2020-09-10,2130\nRhode Island,2020-09-17,2210\nRhode Island,2020-09-24,2290\nRhode Island,2020-10-01,2360\nRhode Island,2020-10-08,2500\nRhode Island,2020-10-15,2680\nRhode Island,2020-10-22,2880\nRhode Island,2020-10-29,3110\nRhode Island,2020-11-05,3470\nRhode Island,2020-11-12,3940\nRhode Island,2020-11-19,4500\nRhode Island,2020-11-26,5090\nSouth Carolina,2020-03-12,0\nSouth Carolina,2020-03-19,1\nSouth Carolina,2020-03-26,7\nSouth Carolina,2020-04-02,30\nSouth Carolina,2020-04-09,55\nSouth Carolina,2020-04-16,75\nSouth Carolina,2020-04-23,95\nSouth Carolina,2020-04-30,120\nSouth Carolina,2020-05-07,140\nSouth Carolina,2020-05-14,160\nSouth Carolina,2020-05-21,185\nSouth Carolina,2020-05-28,210\nSouth Carolina,2020-06-04,250\nSouth Carolina,2020-06-11,310\nSouth Carolina,2020-06-18,400\nSouth Carolina,2020-06-25,540\nSouth Carolina,2020-07-02,720\nSouth Carolina,2020-07-09,940\nSouth Carolina,2020-07-16,1190\nSouth Carolina,2020-07-23,1460\nSouth Carolina,2020-07-30,1740\nSouth Carolina,2020-08-06,1900\nSouth Carolina,2020-08-13,2020\nSouth Carolina,2020-08-20,2140\nSouth Carolina,2020-08-27,2240\nSouth Carolina,2020-09-03,2340\nSouth Carolina,2020-09-10,2480\nSouth Carolina,2020-09-17,2640\nSouth Carolina,2020-09-24,2800\nSouth Carolina,2020-10-01,2950\nSouth Carolina,2020-10-08,3080\nSouth Carolina,2020-10-15,3210\nSouth Carolina,2020-10-22,3350\nSouth Carolina,2020-10-29,3480\nSouth Carolina,2020-11-05,3600\nSouth Carolina,2020-11-12,3730\nSouth Carolina,2020-11-19,3890\nSouth Carolina,2020-11-26,4080\nSouth Dakota,2020-03-12,1\nSouth Dakota,2020-03-19,1\nSouth Dakota,2020-03-26,5\nSouth Dakota,2020-04-02,15\nSouth Dakota,2020-04-09,50\nSouth Dakota,2020-04-16,150\nSouth Dakota,2020-04-23,220\nSouth Dakota,2020-04-30,280\nSouth Dakota,2020-05-07,350\nSouth Dakota,2020-05-14,410\nSouth Dakota,2020-05-21,470\nSouth Dakota,2020-05-28,530\nSouth Dakota,2020-06-04,580\nSouth Dakota,2020-06-11,620\nSouth Dakota,2020-06-18,670\nSouth Dakota,2020-06-25,720\nSouth Dakota,2020-07-02,770\nSouth Dakota,2020-07-09,810\nSouth Dakota,2020-07-16,860\nSouth Dakota,2020-07-23,920\nSouth Dakota,2020-07-30,990\nSouth Dakota,2020-08-06,1060\nSouth Dakota,2020-08-13,1140\nSouth Dakota,2020-08-20,1250\nSouth Dakota,2020-08-27,1380\nSouth Dakota,2020-09-03,1550\nSouth Dakota,2020-09-10,1780\nSouth Dakota,2020-09-17,2040\nSouth Dakota,2020-09-24,2350\nSouth Dakota,2020-10-01,2710\nSouth Dakota,2020-10-08,3120\nSouth Dakota,2020-10-15,3580\nSouth Dakota,2020-10-22,4120\nSouth Dakota,2020-10-29,4720\nSouth Dakota,2020-11-05,5450\nSouth Dakota,2020-11-12,6400\nSouth Dakota,2020-11-19,7550\nSouth Dakota,2020-11-26,8700\nTennessee,2020-03-05,0\nTennessee,2020-03-12,0\nTennessee,2020-03-19,2\nTennessee,2020-03-26,15\nTennessee,2020-04-02,45\nTennessee,2020-04-09,75\nTennessee,2020-04-16,100\nTennessee,2020-04-23,125\nTennessee,2020-04-30,160\nTennessee,2020-05-07,200\nTennessee,2020-05-14,235\nTennessee,2020-05-21,270\nTennessee,2020-05-28,320\nTennessee,2020-06-04,370\nTennessee,2020-06-11,420\nTennessee,2020-06-18,480\nTennessee,2020-06-25,560\nTennessee,2020-07-02,660\nTennessee,2020-07-09,830\nTennessee,2020-07-16,1040\nTennessee,2020-07-23,1280\nTennessee,2020-07-30,1500\nTennessee,2020-08-06,1690\nTennessee,2020-08-13,1870\nTennessee,2020-08-20,2030\nTennessee,2020-08-27,2180\nTennessee,2020-09-03,2300\nTennessee,2020-09-10,2450\nTennessee,2020-09-17,2600\nTennessee,2020-09-24,2750\nTennessee,2020-10-01,2900\nTennessee,2020-10-08,3080\nTennessee,2020-10-15,3290\nTennessee,2020-10-22,3550\nTennessee,2020-10-29,3880\nTennessee,2020-11-05,4170\nTennessee,2020-11-12,4430\nTennessee,2020-11-19,4730\nTennessee,2020-11-26,5050\nTexas,2020-02-13,0\nTexas,2020-02-20,0\nTexas,2020-02-27,0\nTexas,2020-03-05,0\nTexas,2020-03-12,0\nTexas,2020-03-19,1\nTexas,2020-03-26,5\nTexas,2020-04-02,17\nTexas,2020-04-09,40\nTexas,2020-04-16,58\nTexas,2020-04-23,75\nTexas,2020-04-30,98\nTexas,2020-05-07,120\nTexas,2020-05-14,150\nTexas,2020-05-21,180\nTexas,2020-05-28,215\nTexas,2020-06-04,245\nTexas,2020-06-11,280\nTexas,2020-06-18,340\nTexas,2020-06-25,450\nTexas,2020-07-02,600\nTexas,2020-07-09,800\nTexas,2020-07-16,1040\nTexas,2020-07-23,1290\nTexas,2020-07-30,1480\nTexas,2020-08-06,1640\nTexas,2020-08-13,1820\nTexas,2020-08-20,1970\nTexas,2020-08-27,2090\nTexas,2020-09-03,2180\nTexas,2020-09-10,2300\nTexas,2020-09-17,2420\nTexas,2020-09-24,2560\nTexas,2020-10-01,2690\nTexas,2020-10-08,2800\nTexas,2020-10-15,2930\nTexas,2020-10-22,3060\nTexas,2020-10-29,3210\nTexas,2020-11-05,3390\nTexas,2020-11-12,3610\nTexas,2020-11-19,3880\nTexas,2020-11-26,4210\nUtah,2020-03-12,0\nUtah,2020-03-19,2\nUtah,2020-03-26,10\nUtah,2020-04-02,32\nUtah,2020-04-09,60\nUtah,2020-04-16,85\nUtah,2020-04-23,115\nUtah,2020-04-30,150\nUtah,2020-05-07,180\nUtah,2020-05-14,215\nUtah,2020-05-21,250\nUtah,2020-05-28,290\nUtah,2020-06-04,320\nUtah,2020-06-11,380\nUtah,2020-06-18,460\nUtah,2020-06-25,560\nUtah,2020-07-02,700\nUtah,2020-07-09,850\nUtah,2020-07-16,990\nUtah,2020-07-23,1120\nUtah,2020-07-30,1250\nUtah,2020-08-06,1340\nUtah,2020-08-13,1430\nUtah,2020-08-20,1510\nUtah,2020-08-27,1580\nUtah,2020-09-03,1640\nUtah,2020-09-10,1760\nUtah,2020-09-17,1950\nUtah,2020-09-24,2140\nUtah,2020-10-01,2340\nUtah,2020-10-08,2570\nUtah,2020-10-15,2820\nUtah,2020-10-22,3100\nUtah,2020-10-29,3430\nUtah,2020-11-05,3820\nUtah,2020-11-12,4400\nUtah,2020-11-19,5100\nUtah,2020-11-26,5700\nVermont,2020-03-12,1\nVermont,2020-03-19,5\nVermont,2020-03-26,25\nVermont,2020-04-02,55\nVermont,2020-04-09,95\nVermont,2020-04-16,120\nVermont,2020-04-23,133\nVermont,2020-04-30,139\nVermont,2020-05-07,146\nVermont,2020-05-14,150\nVermont,2020-05-21,152\nVermont,2020-05-28,156\nVermont,2020-06-04,162\nVermont,2020-06-11,180\nVermont,2020-06-18,185\nVermont,2020-06-25,190\nVermont,2020-07-02,195\nVermont,2020-07-09,200\nVermont,2020-07-16,210\nVermont,2020-07-23,217\nVermont,2020-07-30,224\nVermont,2020-08-06,230\nVermont,2020-08-13,237\nVermont,2020-08-20,245\nVermont,2020-08-27,253\nVermont,2020-09-03,258\nVermont,2020-09-10,265\nVermont,2020-09-17,272\nVermont,2020-09-24,280\nVermont,2020-10-01,290\nVermont,2020-10-08,300\nVermont,2020-10-15,315\nVermont,2020-10-22,330\nVermont,2020-10-29,350\nVermont,2020-11-05,390\nVermont,2020-11-12,450\nVermont,2020-11-19,540\nVermont,2020-11-26,640\nVirginia,2020-03-12,0\nVirginia,2020-03-19,1\nVirginia,2020-03-26,5\nVirginia,2020-04-02,22\nVirginia,2020-04-09,50\nVirginia,2020-04-16,80\nVirginia,2020-04-23,125\nVirginia,2020-04-30,180\nVirginia,2020-05-07,250\nVirginia,2020-05-14,320\nVirginia,2020-05-21,390\nVirginia,2020-05-28,480\nVirginia,2020-06-04,540\nVirginia,2020-06-11,590\nVirginia,2020-06-18,640\nVirginia,2020-06-25,690\nVirginia,2020-07-02,745\nVirginia,2020-07-09,800\nVirginia,2020-07-16,870\nVirginia,2020-07-23,950\nVirginia,2020-07-30,1050\nVirginia,2020-08-06,1140\nVirginia,2020-08-13,1220\nVirginia,2020-08-20,1290\nVirginia,2020-08-27,1360\nVirginia,2020-09-03,1420\nVirginia,2020-09-10,1500\nVirginia,2020-09-17,1580\nVirginia,2020-09-24,1660\nVirginia,2020-10-01,1740\nVirginia,2020-10-08,1830\nVirginia,2020-10-15,1920\nVirginia,2020-10-22,2020\nVirginia,2020-10-29,2130\nVirginia,2020-11-05,2250\nVirginia,2020-11-12,2390\nVirginia,2020-11-19,2540\nVirginia,2020-11-26,2710\nWashington,2020-01-23,0\nWashington,2020-01-30,0\nWashington,2020-02-06,0\nWashington,2020-02-13,0\nWashington,2020-02-20,0\nWashington,2020-02-27,0\nWashington,2020-03-05,1\nWashington,2020-03-12,6\nWashington,2020-03-19,18\nWashington,2020-03-26,42\nWashington,2020-04-02,80\nWashington,2020-04-09,115\nWashington,2020-04-16,140\nWashington,2020-04-23,160\nWashington,2020-04-30,182\nWashington,2020-05-07,200\nWashington,2020-05-14,220\nWashington,2020-05-21,240\nWashington,2020-05-28,275\nWashington,2020-06-04,300\nWashington,2020-06-11,325\nWashington,2020-06-18,355\nWashington,2020-06-25,395\nWashington,2020-07-02,450\nWashington,2020-07-09,520\nWashington,2020-07-16,590\nWashington,2020-07-23,670\nWashington,2020-07-30,750\nWashington,2020-08-06,810\nWashington,2020-08-13,870\nWashington,2020-08-20,920\nWashington,2020-08-27,970\nWashington,2020-09-03,990\nWashington,2020-09-10,1030\nWashington,2020-09-17,1080\nWashington,2020-09-24,1120\nWashington,2020-10-01,1170\nWashington,2020-10-08,1220\nWashington,2020-10-15,1280\nWashington,2020-10-22,1340\nWashington,2020-10-29,1410\nWashington,2020-11-05,1520\nWashington,2020-11-12,1670\nWashington,2020-11-19,1880\nWashington,2020-11-26,2130\nWest Virginia,2020-03-19,1\nWest Virginia,2020-03-26,5\nWest Virginia,2020-04-02,12\nWest Virginia,2020-04-09,25\nWest Virginia,2020-04-16,40\nWest Virginia,2020-04-23,52\nWest Virginia,2020-04-30,60\nWest Virginia,2020-05-07,72\nWest Virginia,2020-05-14,82\nWest Virginia,2020-05-21,92\nWest Virginia,2020-05-28,105\nWest Virginia,2020-06-04,115\nWest Virginia,2020-06-11,125\nWest Virginia,2020-06-18,135\nWest Virginia,2020-06-25,150\nWest Virginia,2020-07-02,165\nWest Virginia,2020-07-09,200\nWest Virginia,2020-07-16,250\nWest Virginia,2020-07-23,310\nWest Virginia,2020-07-30,365\nWest Virginia,2020-08-06,400\nWest Virginia,2020-08-13,440\nWest Virginia,2020-08-20,490\nWest Virginia,2020-08-27,535\nWest Virginia,2020-09-03,560\nWest Virginia,2020-09-10,620\nWest Virginia,2020-09-17,690\nWest Virginia,2020-09-24,760\nWest Virginia,2020-10-01,840\nWest Virginia,2020-10-08,950\nWest Virginia,2020-10-15,1080\nWest Virginia,2020-10-22,1230\nWest Virginia,2020-10-29,1390\nWest Virginia,2020-11-05,1580\nWest Virginia,2020-11-12,1820\nWest Virginia,2020-11-19,2110\nWest Virginia,2020-11-26,2460\nWisconsin,2020-02-06,0\nWisconsin,2020-02-13,0\nWisconsin,2020-02-20,0\nWisconsin,2020-02-27,0\nWisconsin,2020-03-05,0\nWisconsin,2020-03-12,0\nWisconsin,2020-03-19,3\nWisconsin,2020-03-26,10\nWisconsin,2020-04-02,30\nWisconsin,2020-04-09,50\nWisconsin,2020-04-16,72\nWisconsin,2020-04-23,92\nWisconsin,2020-04-30,120\nWisconsin,2020-05-07,155\nWisconsin,2020-05-14,190\nWisconsin,2020-05-21,240\nWisconsin,2020-05-28,300\nWisconsin,2020-06-04,340\nWisconsin,2020-06-11,380\nWisconsin,2020-06-18,420\nWisconsin,2020-06-25,460\nWisconsin,2020-07-02,500\nWisconsin,2020-07-09,580\nWisconsin,2020-07-16,680\nWisconsin,2020-07-23,790\nWisconsin,2020-07-30,910\nWisconsin,2020-08-06,1010\nWisconsin,2020-08-13,1110\nWisconsin,2020-08-20,1200\nWisconsin,2020-08-27,1280\nWisconsin,2020-09-03,1320\nWisconsin,2020-09-10,1470\nWisconsin,2020-09-17,1670\nWisconsin,2020-09-24,1880\nWisconsin,2020-10-01,2080\nWisconsin,2020-10-08,2390\nWisconsin,2020-10-15,2770\nWisconsin,2020-10-22,3230\nWisconsin,2020-10-29,3760\nWisconsin,2020-11-05,4360\nWisconsin,2020-11-12,5140\nWisconsin,2020-11-19,5980\nWisconsin,2020-11-26,6700\nWyoming,2020-03-12,0\nWyoming,2020-03-19,3\nWyoming,2020-03-26,10\nWyoming,2020-04-02,24\nWyoming,2020-04-09,40\nWyoming,2020-04-16,55\nWyoming,2020-04-23,75\nWyoming,2020-04-30,95\nWyoming,2020-05-07,110\nWyoming,2020-05-14,125\nWyoming,2020-05-21,140\nWyoming,2020-05-28,150\nWyoming,2020-06-04,160\nWyoming,2020-06-11,175\nWyoming,2020-06-18,200\nWyoming,2020-06-25,235\nWyoming,2020-07-02,265\nWyoming,2020-07-09,310\nWyoming,2020-07-16,360\nWyoming,2020-07-23,420\nWyoming,2020-07-30,480\nWyoming,2020-08-06,520\nWyoming,2020-08-13,565\nWyoming,2020-08-20,610\nWyoming,2020-08-27,650\nWyoming,2020-09-03,680\nWyoming,2020-09-10,740\nWyoming,2020-09-17,820\nWyoming,2020-09-24,900\nWyoming,2020-10-01,990\nWyoming,2020-10-08,1130\nWyoming,2020-10-15,1340\nWyoming,2020-10-22,1660\nWyoming,2020-10-29,2080\nWyoming,2020-11-05,2650\nWyoming,2020-11-12,3450\nWyoming,2020-11-19,4400\nWyoming,2020-11-26,5350",
    "format": {"type": "csv", "parse": {"d": "date", "v": "number"}}
  },
  "facet": {"field": "s", "type": "nominal", "title": null, "header": {"labelExpr": "''", "labelPadding": 0, "labelFontSize": 1}},
  "columns": 7,
  "spacing": {"row": 19, "column": 21},
  "spec": {
    "width": 289,
    "height": 214,
    "layer": [
      {
        "mark": {"type": "point", "opacity": 0},
        "encoding": {
          "x": {
            "field": "d",
            "type": "temporal",
            "scale": {
              "type": "utc",
              "nice": false,
              "domain": [
                {"year": 2020, "month": 1, "date": 5, "hours": 12, "utc": true},
                {"year": 2020, "month": 12, "date": 11, "hours": 12, "utc": true}
              ]
            },
            "axis": {
              "title": null,
              "grid": true,
              "values": [
                {"year": 2020, "month": 4, "date": 1, "utc": true},
                {"year": 2020, "month": 7, "date": 1, "utc": true},
                {"year": 2020, "month": 10, "date": 1, "utc": true}
              ],
              "format": "%b",
              "labelExpr": "utcFormat(datum.value, '%b')",
              "tickSize": 10,
              "labelPadding": 2,
              "labelFlush": false,
              "labelOverlap": false
            }
          },
          "y": {
            "field": "v",
            "type": "quantitative",
            "scale": {"domain": [-476, 16535], "nice": false, "zero": false},
            "axis": {
              "title": null,
              "grid": true,
              "values": [0, 2500, 5000, 7500, 10000],
              "format": ",",
              "labelExpr": "format(datum.value, ',')",
              "labelFontSize": 31,
              "tickSize": 11,
              "labelPadding": 11,
              "labelOverlap": false,
              "minExtent": 134
            }
          }
        }
      },
      {
        "transform": [{"aggregate": [{"op": "max", "field": "v", "as": "m"}], "groupby": ["s"]}],
        "layer": [
          {"mark": {"type": "rule", "color": "#FFFFFF", "strokeWidth": 1.8}, "encoding": {"y": {"datum": 1250, "type": "quantitative"}}},
          {"mark": {"type": "rule", "color": "#FFFFFF", "strokeWidth": 1.8}, "encoding": {"y": {"datum": 3750, "type": "quantitative"}}},
          {"mark": {"type": "rule", "color": "#FFFFFF", "strokeWidth": 1.8}, "encoding": {"y": {"datum": 6250, "type": "quantitative"}}},
          {"mark": {"type": "rule", "color": "#FFFFFF", "strokeWidth": 1.8}, "encoding": {"y": {"datum": 8750, "type": "quantitative"}}},
          {"mark": {"type": "rule", "color": "#FFFFFF", "strokeWidth": 1.8}, "encoding": {"x": {"datum": {"year": 2020, "month": 2, "date": 15, "hours": 12, "utc": true}, "type": "temporal"}}},
          {"mark": {"type": "rule", "color": "#FFFFFF", "strokeWidth": 1.8}, "encoding": {"x": {"datum": {"year": 2020, "month": 5, "date": 16, "hours": 12, "utc": true}, "type": "temporal"}}},
          {"mark": {"type": "rule", "color": "#FFFFFF", "strokeWidth": 1.8}, "encoding": {"x": {"datum": {"year": 2020, "month": 8, "date": 16, "utc": true}, "type": "temporal"}}},
          {"mark": {"type": "rule", "color": "#FFFFFF", "strokeWidth": 1.8}, "encoding": {"x": {"datum": {"year": 2020, "month": 11, "date": 16, "utc": true}, "type": "temporal"}}}
        ]
      },
      {
        "transform": [
          {"window": [{"op": "lead", "field": "d", "as": "d2"}, {"op": "lead", "field": "v", "as": "v2"}], "groupby": ["s"], "sort": [{"field": "d", "order": "ascending"}]},
          {"filter": "isValid(datum.d2)"}
        ],
        "mark": {"type": "rule", "strokeWidth": 8, "strokeCap": "round"},
        "encoding": {
          "x": {"field": "d", "type": "temporal"},
          "x2": {"field": "d2"},
          "y": {"field": "v", "type": "quantitative"},
          "y2": {"field": "v2"},
          "color": {
            "field": "v",
            "type": "quantitative",
            "legend": null,
            "scale": {
              "domain": [0, 1500, 3000, 5000, 7500, 10130],
              "range": ["#150c9c", "#45169f", "#79288f", "#b2416f", "#dc5c45", "#f6921e"],
              "interpolate": "lab"
            }
          }
        }
      },
      {
        "mark": {"type": "point", "shape": "M-1,-1L1,1M-1,1L1,-1", "filled": false, "size": 100, "strokeWidth": 1.6, "opacity": 1},
        "encoding": {
          "x": {"field": "d", "type": "temporal"},
          "y": {"field": "v", "type": "quantitative"},
          "color": {"field": "v", "type": "quantitative", "legend": null}
        }
      },
      {
        "transform": [{"aggregate": [{"op": "max", "field": "v", "as": "m"}], "groupby": ["s"]}],
        "layer": [
          {
            "mark": {"type": "rect", "color": "#D9D9D9"},
            "encoding": {
              "y": {"datum": 10653, "type": "quantitative"},
              "y2": {"datum": 16535}
            }
          },
          {
            "mark": {"type": "text", "font": "Liberation Serif", "fontSize": 40, "color": "#1A1A1A", "align": "center", "baseline": "middle"},
            "encoding": {
              "x": {"datum": {"year": 2020, "month": 6, "date": 24, "utc": true}, "type": "temporal"},
              "y": {"datum": 13594, "type": "quantitative"},
              "text": {"field": "s", "type": "nominal"}
            }
          }
        ]
      }
    ]
  },
  "config": {
    "numberFormat": ",",
    "view": {"fill": "#EBEBEB", "stroke": null},
    "axis": {
      "domain": false,
      "grid": true,
      "gridColor": "#FFFFFF",
      "gridWidth": 3.6,
      "gridOpacity": 1,
      "tickColor": "#333333",
      "tickWidth": 3,
      "labelFont": "Liberation Serif",
      "labelFontSize": 39,
      "labelColor": "#4D4D4D"
    }
  }
}
